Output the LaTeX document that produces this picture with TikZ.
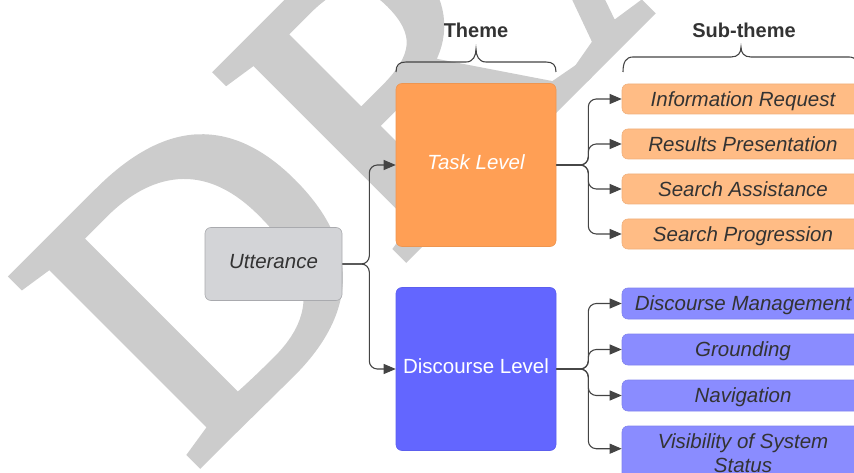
\documentclass[tikz,border=0pt]{standalone}
\usepackage{fontspec}
\setmainfont{Liberation Sans}
\newfontfamily\wmfont[FakeBold=2.5]{Liberation Serif}
\usetikzlibrary{arrows.meta,calc}

\definecolor{ink}{HTML}{333333}
\definecolor{wirecol}{HTML}{444444}
\definecolor{wmgray}{HTML}{CCCCCC}
\definecolor{uttfill}{HTML}{D3D4D7}
\definecolor{uttline}{HTML}{A9AAAE}
\definecolor{taskfill}{HTML}{FF9F55}
\definecolor{taskline}{HTML}{EE9550}
\definecolor{subtaskfill}{HTML}{FFBC85}
\definecolor{subtaskline}{HTML}{F0B07C}
\definecolor{discfill}{HTML}{6366FF}
\definecolor{discline}{HTML}{5C5FEE}
\definecolor{subdiscfill}{HTML}{8A8CFF}
\definecolor{subdiscline}{HTML}{8083EE}

\tikzset{
  box/.style={rectangle, rounded corners=6pt, inner sep=0pt, align=center,
    line width=0.6pt, font=\fontsize{20.5}{24}\selectfont},
  rootbox/.style={box, fill=uttfill, draw=uttline, text=ink,
    minimum width=137pt, minimum height=73pt, text height=14.7pt, text depth=6pt},
  themebox/.style={box, text=white, minimum width=160pt, minimum height=163pt,
    text height=14.7pt, text depth=5.5pt},
  subbox/.style={box, text=ink, minimum width=242pt, minimum height=30pt},
  onerow/.style={text height=14.7pt, text depth=0pt},
  conn/.style={draw=wirecol, line width=1.1pt, rounded corners=8pt,
    -{Triangle[length=12pt,width=10pt]}},
  bracket/.style={draw=wirecol, line width=1.1pt},
  heading/.style={font=\bfseries\fontsize{20}{24}\selectfont, text=ink, inner sep=0pt}
}

\begin{document}
\begin{tikzpicture}[x=1pt,y=-1pt]
  \useasboundingbox (0,0) rectangle (854,473);

  % watermark behind the chart
  \begin{scope}
    \clip (0,0) rectangle (854,473);
    \node[rotate=45, anchor=base west, inner sep=0pt, text=wmgray,
      font=\wmfont\fontsize{400}{400}\selectfont] (wm) at (192,470) {DRAFT};
  \end{scope}

  % column headings
  \node[heading] (themehead) at (476,30) {Theme};
  \node[heading] (subhead) at (744,30) {Sub-theme};

  % root
  \node[rootbox] (utt) at (273.5,264) {\itshape Utterance};

  % themes
  \node[themebox, fill=taskfill, draw=taskline] (task) at (476,165) {\itshape Task Level};
  \node[themebox, fill=discfill, draw=discline] (disc) at (476,369) {Discourse Level};

  % task-level sub-themes
  \node[subbox, onerow, fill=subtaskfill, draw=subtaskline] (ir) at (743,99) {\itshape Information Request};
  \node[subbox, onerow, fill=subtaskfill, draw=subtaskline] (rp) at (743,144) {\itshape Results Presentation};
  \node[subbox, onerow, fill=subtaskfill, draw=subtaskline] (sa) at (743,189) {\itshape Search Assistance};
  \node[subbox, onerow, fill=subtaskfill, draw=subtaskline] (sp) at (743,234) {\itshape Search Progression};

  % discourse-level sub-themes
  \node[subbox, onerow, fill=subdiscfill, draw=subdiscline, minimum height=31pt] (dm) at (743,303.5) {\itshape Discourse Management};
  \node[subbox, onerow, fill=subdiscfill, draw=subdiscline, minimum height=31pt] (gr) at (743,349.5) {\itshape Grounding};
  \node[subbox, onerow, fill=subdiscfill, draw=subdiscline, minimum height=31pt] (nv) at (743,395.5) {\itshape Navigation};
  \node[subbox, fill=subdiscfill, draw=subdiscline, minimum height=54pt] (vs) at (743,453) {\itshape Visibility of System\\\itshape Status};

  % braces under the headings
  \draw[bracket] (396,72) .. controls (396,65) and (399,62) .. (406,62) -- (466,62)
    .. controls (473,62) and (476,56) .. (476,49)
    .. controls (476,56) and (479,62) .. (486,62) -- (546,62)
    .. controls (553,62) and (556,65) .. (556,72);
  \draw[bracket] (623,72) .. controls (623,62) and (626,57) .. (633,57) -- (731,57)
    .. controls (738,57) and (741,53) .. (741,47)
    .. controls (741,53) and (744,57) .. (751,57) -- (849,57)
    .. controls (856,57) and (859,62) .. (859,72);

  % root to themes
  \draw[conn] (utt.east) -- ++(27,0) |- (task.west);
  \draw[conn] (utt.east) -- ++(27,0) |- (disc.west);

  % task level to sub-themes
  \foreach \s in {ir,rp,sa,sp}
    \draw[conn] (task.east) -- ++(32,0) |- (\s.west);

  % discourse level to sub-themes
  \foreach \s in {dm,gr,nv}
    \draw[conn] (disc.east) -- ++(32,0) |- (\s.west);
  \draw[conn] (disc.east) -- ++(32,0) |- ($(vs.north west)+(0,23)$);
\end{tikzpicture}
\end{document}
